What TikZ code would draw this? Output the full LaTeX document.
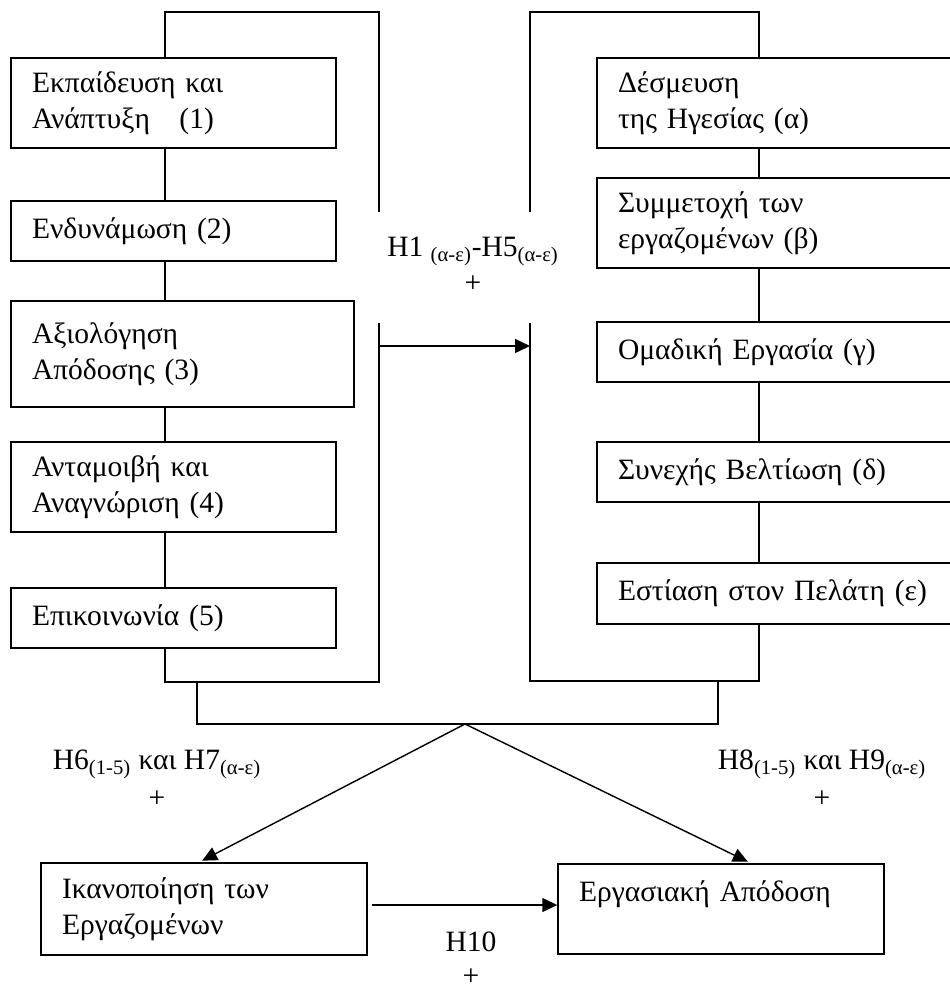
\documentclass[tikz,border=0pt]{standalone}
\usepackage{fontspec}
\setmainfont{Liberation Serif}
\usetikzlibrary{arrows.meta}

\begin{document}
\begin{tikzpicture}[>={Triangle[length=0.3cm, width=0.28cm]}, line width=0.8pt,
        box/.style={draw, align=left, inner xsep=0.42cm, inner ysep=0pt, font=\fontsize{16.8}{20.5}\selectfont},
        hyp/.style={align=center, font=\fontsize{16.8}{20.5}\selectfont}]
    \useasboundingbox (0,0) rectangle (19,-19.68);
    \clip (0,0) rectangle (19,-19.68);

    % HRM practices
    \node[box, text width=5.66cm, minimum height=1.8cm] (edu) at (3.47,-2.06) {Εκπαίδευση και\\Ανάπτυξη~~~(1)};
    \node[box, text width=5.66cm, minimum height=1.2cm] (empow) at (3.47,-4.62) {Ενδυνάμωση (2)};
    \node[box, text width=6.02cm, minimum height=2.12cm] (appr) at (3.65,-7.08) {Αξιολόγηση\\Απόδοσης (3)};
    \node[box, text width=5.66cm, minimum height=1.8cm] (reward) at (3.47,-9.74) {Ανταμοιβή και\\Αναγνώριση (4)};
    \node[box, text width=5.66cm, minimum height=1.2cm] (comm) at (3.47,-12.36) {Επικοινωνία (5)};

    % TQM practices
    \node[box, text width=6.42cm, minimum height=1.8cm] (lead) at (15.57,-2.06) {Δέσμευση\\της Ηγεσίας (α)};
    \node[box, text width=6.42cm, minimum height=1.8cm] (involve) at (15.57,-4.46) {Συμμετοχή των\\εργαζομένων (β)};
    \node[box, text width=6.42cm, minimum height=1.2cm] (team) at (15.57,-7.04) {Ομαδική Εργασία (γ)};
    \node[box, text width=6.42cm, minimum height=1.2cm] (improve) at (15.57,-9.44) {Συνεχής Βελτίωση (δ)};
    \node[box, text width=6.42cm, minimum height=1.22cm] (focus) at (15.57,-11.87) {Εστίαση στον Πελάτη (ε)};

    % outcomes
    \node[box, text width=5.68cm, minimum height=1.84cm] (satis) at (4.08,-18.18) {Ικανοποίηση των\\Εργαζομένων};
    \node[box, text width=5.68cm, minimum height=1.8cm] (perf) at (14.42,-18.18) {Εργασιακή Απόδοση\\\mbox{}};

    \coordinate (lx) at (3.3,0);
    \coordinate (rx) at (15.18,0);
    \foreach \a/\b in {edu/empow, empow/appr, appr/reward, reward/comm}
        \draw (\a.south -| lx) -- (\b.north -| lx);
    \foreach \a/\b in {lead/involve, involve/team, team/improve, improve/focus}
        \draw (\a.south -| rx) -- (\b.north -| rx);

    % brackets
    \coordinate (lt) at (7.58,-0.24);
    \coordinate (lga) at (7.58,-4.24);
    \coordinate (lgb) at (7.58,-6.46);
    \coordinate (lb) at (7.58,-13.64);
    \coordinate (rt) at (10.6,-0.24);
    \coordinate (rga) at (10.6,-4.24);
    \coordinate (rgb) at (10.6,-6.46);
    \coordinate (rb) at (10.6,-13.62);
    \draw (edu.north -| lx) |- (lt) -- (lga);
    \draw (comm.south -| lx) |- (lb) -- (lgb);
    \draw (lead.north -| rx) |- (rt) -- (rga);
    \draw (focus.south -| rx) |- (rb) -- (rgb);
    \draw[->] (7.58,-6.92) -- (10.6,-6.92);

    % join and outcomes
    \coordinate (ma) at (3.94,-13.64);
    \coordinate (mb) at (14.36,-13.62);
    \coordinate (apex) at (9.3,-14.48);
    \draw (ma) |- (apex) -| (mb);
    \draw[->, shorten >=2pt] (apex) -- ([xshift=-0.1cm]satis.north);
    \draw[->, shorten >=2pt] (apex) -- ([xshift=0.6cm]perf.north);
    \draw[->] ([xshift=0.08cm, yshift=0.08cm]satis.east) -- ([yshift=0.08cm]perf.west);

    \node[hyp] (h1) at (9.46,-5.3) {H1 \textsubscript{(α-ε)}-H5\textsubscript{(α-ε)}\\[0pt]+};
    \node[hyp] (h6) at (3.14,-15.58) {H6\textsubscript{(1-5)} και H7\textsubscript{(α-ε)}\\[1pt]+};
    \node[hyp] (h8) at (16.44,-15.58) {H8\textsubscript{(1-5)} και H9\textsubscript{(α-ε)}\\[1pt]+};
    \node[hyp] (h10) at (9.42,-19.18) {H10\\[-1pt]+};
\end{tikzpicture}
\end{document}
